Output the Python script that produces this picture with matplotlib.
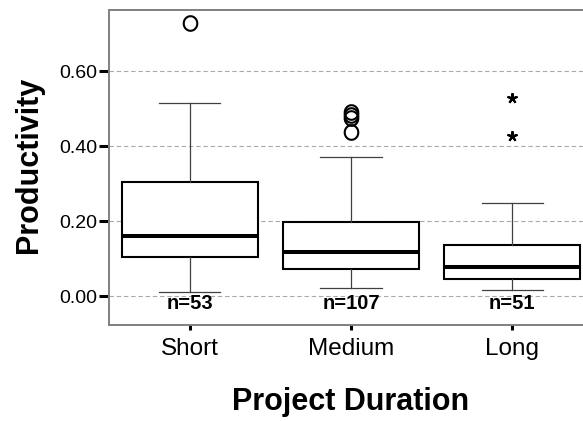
import numpy as np
import matplotlib.pyplot as plt
from matplotlib.path import Path

# boxplot summary
groups = ["Short", "Medium", "Long"]
counts = [53, 107, 51]
q1 = [0.104, 0.072, 0.045]
med = [0.160, 0.117, 0.077]
q3 = [0.304, 0.197, 0.136]
whis_lo = [0.011, 0.021, 0.016]
whis_hi = [0.515, 0.371, 0.248]
outliers = [[0.728], [0.437, 0.476, 0.483, 0.490], []]
extremes = [[], [], [0.428, 0.527]]

plt.rcParams['font.family'] = ['Liberation Sans', 'DejaVu Sans']

fig = plt.figure(figsize=(5.83, 4.21), dpi=100)
ax = fig.add_axes([109/583, 96.5/421, 484/583, 315/421])

stats = []
for i, g in enumerate(groups):
    stats.append(dict(label=g, med=med[i], q1=q1[i], q3=q3[i],
                      whislo=whis_lo[i], whishi=whis_hi[i], fliers=[]))

pos = [1, 2, 3]
ax.bxp(stats, positions=pos, widths=0.845, capwidths=0.38,
       showfliers=False, patch_artist=True,
       boxprops=dict(facecolor='white', edgecolor='black', linewidth=1.5),
       medianprops=dict(color='black', linewidth=2.9, solid_capstyle='butt'),
       whiskerprops=dict(color='#404040', linewidth=0.9),
       capprops=dict(color='#404040', linewidth=0.9), zorder=3)

# letter-O like outlier marker (slightly taller than wide)
t = np.linspace(0, 2 * np.pi, 60)
o_mark = Path(np.column_stack([0.93 * np.cos(t), np.sin(t)]), closed=True)

for p, vals in zip(pos, outliers):
    if vals:
        ax.plot([p] * len(vals), vals, ls='none', marker=o_mark, ms=10.5,
                mfc='none', mec='black', mew=1.5, zorder=4)

for p, vals in zip(pos, extremes):
    if vals:
        ax.plot([p] * len(vals), vals, ls='none', marker=(5, 2, 0),
                ms=7.5, mew=1.5, color='black', zorder=4)

for p, n in zip(pos, counts):
    ax.text(p, -0.02, f'n={n}', ha='center', va='center',
            fontsize=14.5, fontweight='bold', zorder=4)

ax.set_xlim(0.5, 3.5)
ax.set_ylim(-0.0757, 0.764)
ax.set_yticks([0.0, 0.2, 0.4, 0.6])
ax.set_yticklabels(['0.00', '0.20', '0.40', '0.60'])
ax.set_xticks(pos)
ax.set_xticklabels(groups)
ax.yaxis.grid(True, linestyle=(0, (4, 2.5)), color='#aaaaaa', linewidth=0.8, zorder=0)
ax.set_axisbelow(True)

ax.tick_params(axis='y', length=7.2, width=2.2, color='black', labelsize=14, pad=1)
ax.tick_params(axis='x', length=3.8, width=2.2, color='black', labelsize=17.5, pad=6)
for s in ax.spines.values():
    s.set_color('#808080')
    s.set_linewidth(1.4)

fig.text(29/583, 1 - 165/421, 'Productivity', rotation=90, ha='center', va='center',
         fontsize=22, fontweight='bold')
fig.text(351/583, 1 - 402/421, 'Project Duration', ha='center', va='center',
         fontsize=22, fontweight='bold')

fig.savefig('out.png', dpi=100)
